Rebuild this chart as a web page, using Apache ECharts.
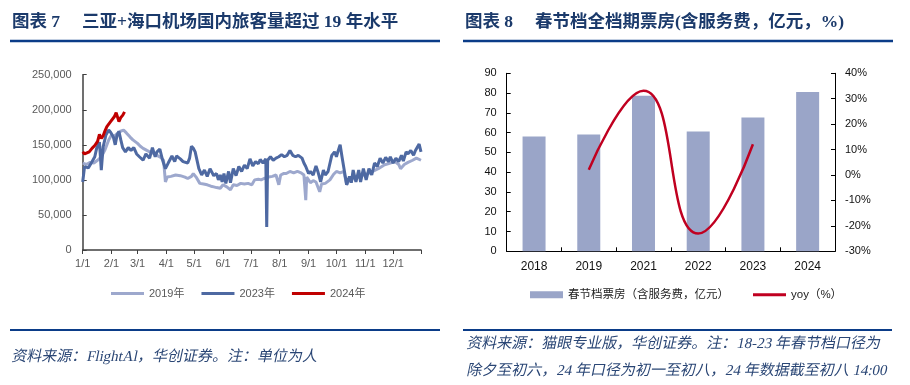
<!DOCTYPE html>
<html><head><meta charset="utf-8">
<script src="https://cdn.jsdelivr.net/npm/echarts@6/dist/echarts.min.js"></script>
<style>html,body{margin:0;padding:0;background:#fff}#c{width:910px;height:385px}</style>
</head><body><div id="c"></div>
<script>
// ---------- Left chart: daily domestic passengers (day index of year, value) ----------
const monthDays = [31,28,31,30,31,30,31,31,30,31,30,31];
const s2019 = [[0,124000],[4,122000],[8,125000],[12,124000],[16,128000],[20,133000],[24,143000],[28,157000],[31,164000],[34,162000],[37,166000],[40,169000],[44,171000],[47,167000],[51,161000],[54,157000],[56,159000],[59,152000],[62,148000],[65,145000],[69,142000],[72,140000],[76,138000],[80,135000],[84,132000],[87,128000],[89,97000],[91,104000],[95,105000],[100,107000],[105,106000],[110,104000],[113,102000],[117,105000],[119,109000],[122,104000],[126,95000],[130,94000],[134,93000],[138,91000],[141,90000],[144,89000],[146,87000],[148,88000],[151,93000],[155,90000],[159,86000],[162,93000],[166,92000],[170,95000],[174,94000],[178,95000],[182,93000],[185,100000],[189,101000],[192,100000],[195,102000],[200,104000],[204,105000],[208,107000],[211,93000],[213,107000],[216,109000],[219,109000],[223,112000],[227,110000],[231,112000],[235,110000],[238,107000],[240,71000],[241,104000],[245,96000],[248,99000],[251,97000],[255,83000],[257,94000],[261,95000],[266,100000],[270,108000],[273,112000],[277,110000],[281,112000],[284,93000],[287,100000],[292,102000],[297,104000],[302,107000],[307,109000],[312,112000],[318,116000],[324,121000],[331,124000],[336,126000],[340,122000],[342,116000],[346,122000],[350,125000],[355,128000],[359,131000],[364,128000]];
const s2023 = [[0,97000],[2,119000],[6,117000],[10,126000],[13,133000],[15,145000],[18,154000],[20,114000],[22,147000],[25,164000],[28,171000],[30,168000],[33,161000],[35,150000],[37,164000],[39,169000],[41,157000],[43,146000],[46,140000],[49,146000],[52,142000],[55,146000],[58,137000],[61,133000],[65,128000],[68,137000],[72,131000],[75,146000],[78,133000],[80,140000],[83,144000],[86,128000],[89,116000],[92,124000],[96,134000],[99,126000],[101,134000],[105,130000],[108,126000],[110,128000],[113,124000],[115,131000],[117,148000],[119,145000],[121,140000],[123,142000],[125,116000],[128,107000],[131,114000],[134,105000],[137,116000],[141,106000],[144,109000],[146,100000],[148,107000],[150,97000],[152,109000],[154,95000],[157,112000],[159,96000],[162,116000],[165,106000],[168,119000],[171,112000],[174,121000],[177,116000],[180,130000],[183,120000],[186,126000],[189,123000],[191,129000],[194,124000],[197,130000],[198,33000],[199,128000],[202,133000],[205,128000],[208,131000],[211,133000],[214,136000],[217,133000],[220,135000],[223,142000],[226,135000],[229,133000],[232,135000],[236,131000],[238,124000],[240,119000],[243,109000],[245,112000],[248,107000],[251,120000],[253,112000],[256,97000],[259,114000],[261,107000],[264,112000],[268,135000],[271,140000],[273,133000],[275,142000],[277,150000],[279,133000],[282,109000],[284,93000],[287,105000],[289,96000],[291,114000],[294,97000],[297,114000],[299,97000],[302,116000],[305,100000],[308,116000],[311,107000],[314,124000],[317,119000],[320,131000],[323,124000],[326,132000],[329,126000],[331,133000],[334,124000],[337,131000],[340,126000],[343,135000],[345,127000],[348,140000],[350,137000],[353,142000],[356,135000],[358,142000],[360,143000],[362,151000],[364,140000]];
const s2024 = [[0,140000],[2,137000],[4,136000],[7,140000],[10,145000],[13,149000],[16,155000],[18,165000],[20,159000],[22,163000],[24,170000],[26,176000],[28,176000],[30,183000],[32,185000],[34,190000],[36,196000],[38,194000],[39,183000],[41,189000],[43,192000],[45,197000]];
const leftNames = ['2019年','2023年','2024年'];

// ---------- Right chart: Spring Festival box office ----------
const years = ['2018','2019','2021','2022','2023','2024'];
const boxOffice = [58.0, 59.1, 78.6, 60.6, 67.7, 80.6];
const yoy = [null, 2.1, 33.1, -23.0, 12.1, null];
const rightNames = ['春节档票房（含服务费，亿元）','yoy（%）'];

const dates = [];
monthDays.forEach((n, m) => { for (let d = 1; d <= n; d++) dates.push((m + 1) + '/' + d); });

const titleFont = 'bold 17.5px "Liberation Serif","Noto Sans CJK SC"';
const srcFont = '15px "Liberation Serif","Noto Sans CJK SC"';
const navy = '#1B3A6B';
const rule = '#0B3C88';
const srcColor = '#2A4675';
const gray = '#595959';
const slant = -0.21;

const chart = echarts.init(document.getElementById('c'), null, {renderer: 'canvas'});
chart.setOption({
  animation: false,
  textStyle: {fontFamily: '"Liberation Sans","Noto Sans CJK SC",sans-serif'},
  grid: [
    {left: 82.7, top: 74.7, width: 338.3, height: 175.3, outerBoundsMode: 'none'},
    {left: 506.7, top: 73.3, width: 328.3, height: 178, outerBoundsMode: 'none'}
  ],
  legend: [
    {data: leftNames, left: 106, top: 283, itemWidth: 33, itemHeight: 3, itemGap: 17, icon: 'rect',
     textStyle: {color: gray, fontSize: 11}},
    {data: [rightNames[0]], left: 525, top: 284, itemWidth: 33, itemHeight: 7, icon: 'rect',
     textStyle: {color: '#222', fontSize: 11.5}},
    {data: [rightNames[1]], left: 748, top: 284, itemWidth: 33, itemHeight: 3, icon: 'rect',
     textStyle: {color: '#222', fontSize: 11.5}}
  ],
  xAxis: [
    {gridIndex: 0, type: 'category', data: dates, boundaryGap: false,
     axisLine: {lineStyle: {color: '#404040', width: 1.5}},
     axisTick: {show: true, inside: false, length: 4, lineStyle: {color: '#404040'},
       interval: (i, v) => v.endsWith('/1') || i === dates.length - 1},
     axisLabel: {color: gray, fontSize: 11, margin: 8, interval: (i, v) => v.endsWith('/1')},
     splitLine: {show: false}},
    {gridIndex: 1, type: 'category', data: years, boundaryGap: true,
     axisLine: {lineStyle: {color: '#000', width: 1}},
     axisTick: {show: true, inside: true, length: 4, lineStyle: {color: '#000'}},
     axisLabel: {color: '#111', fontSize: 12, margin: 9},
     splitLine: {show: false}}
  ],
  yAxis: [
    {gridIndex: 0, type: 'value', min: 0, max: 250000, interval: 50000,
     axisLine: {show: true, lineStyle: {color: '#404040', width: 1.5}},
     axisTick: {show: true, inside: true, length: 4, lineStyle: {color: '#404040'}},
     axisLabel: {color: gray, fontSize: 11, margin: 11,
       formatter: v => v.toLocaleString('en-US')},
     splitLine: {show: false}},
    {gridIndex: 1, type: 'value', min: 0, max: 90, interval: 10,
     axisLine: {show: true, lineStyle: {color: '#000', width: 1}},
     axisTick: {show: true, inside: true, length: 4, lineStyle: {color: '#000'}},
     axisLabel: {color: '#111', fontSize: 11, margin: 10},
     splitLine: {show: false}},
    {gridIndex: 1, type: 'value', position: 'right', min: -30, max: 40, interval: 10,
     axisLine: {show: true, lineStyle: {color: '#000', width: 1}},
     axisTick: {show: true, inside: true, length: 4, lineStyle: {color: '#000'}},
     axisLabel: {color: '#111', fontSize: 11, margin: 10, formatter: '{value}%'},
     splitLine: {show: false}}
  ],
  series: [
    {name: leftNames[0], type: 'line', xAxisIndex: 0, yAxisIndex: 0, data: s2019, symbol: 'none',
     lineStyle: {width: 3, color: '#9DA8CD'}, itemStyle: {color: '#9DA8CD'}},
    {name: leftNames[1], type: 'line', xAxisIndex: 0, yAxisIndex: 0, data: s2023, symbol: 'none',
     lineStyle: {width: 3, color: '#4E69A2'}, itemStyle: {color: '#4E69A2'}},
    {name: leftNames[2], type: 'line', xAxisIndex: 0, yAxisIndex: 0, data: s2024, symbol: 'none',
     lineStyle: {width: 3, color: '#C00000'}, itemStyle: {color: '#C00000'}},
    {name: rightNames[0], type: 'bar', xAxisIndex: 1, yAxisIndex: 1, data: boxOffice, barWidth: 23,
     itemStyle: {color: '#9AA5C8'}},
    {name: rightNames[1], type: 'line', xAxisIndex: 1, yAxisIndex: 2, data: yoy, smooth: true, symbol: 'none',
     lineStyle: {width: 2.5, color: '#C00020'}, itemStyle: {color: '#C00020'}}
  ],
  graphic: [
    {type: 'text', style: {x: 12, y: 22, text: '图表 7', font: titleFont, fill: navy, verticalAlign: 'middle'}},
    {type: 'text', style: {x: 82, y: 22, text: '三亚+海口机场国内旅客量超过 19 年水平', font: titleFont, fill: navy, verticalAlign: 'middle'}},
    {type: 'text', style: {x: 465, y: 22, text: '图表 8', font: titleFont, fill: navy, verticalAlign: 'middle'}},
    {type: 'text', style: {x: 535, y: 22, text: '春节档全档期票房(含服务费，亿元，%)', font: titleFont, fill: navy, verticalAlign: 'middle'}},
    {type: 'line', shape: {x1: 10, y1: 41, x2: 440, y2: 41}, style: {stroke: rule, lineWidth: 2.5}},
    {type: 'line', shape: {x1: 463, y1: 41, x2: 893, y2: 41}, style: {stroke: rule, lineWidth: 2.5}},
    {type: 'line', shape: {x1: 10, y1: 330, x2: 440, y2: 330}, style: {stroke: rule, lineWidth: 2}},
    {type: 'line', shape: {x1: 463, y1: 330, x2: 892, y2: 330}, style: {stroke: rule, lineWidth: 2}},
    {type: 'text', x: 12, y: 357, skewX: slant, style: {x: 0, y: 0, text: '资料来源：FlightAl，华创证券。注：单位为人', font: srcFont, fill: srcColor, verticalAlign: 'middle'}},
    {type: 'text', x: 467, y: 344, skewX: slant, style: {x: 0, y: 0, text: '资料来源：猫眼专业版，华创证券。注：18-23 年春节档口径为', font: srcFont, fill: srcColor, verticalAlign: 'middle'}},
    {type: 'text', x: 467, y: 371, skewX: slant, style: {x: 0, y: 0, text: '除夕至初六，24 年口径为初一至初八，24 年数据截至初八 14:00', font: srcFont, fill: srcColor, verticalAlign: 'middle'}}
  ]
});
</script></body></html>
